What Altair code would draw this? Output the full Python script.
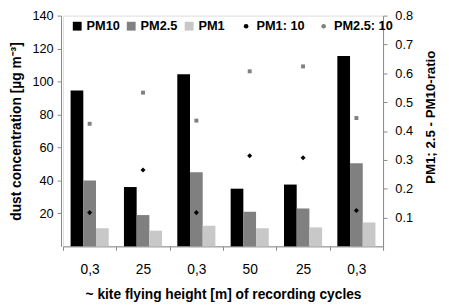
import altair as alt
import pandas as pd

heights = ["0,3", "25", "0,3", "50", "25", "0,3"]
pm10 = [94.5, 36, 104.5, 35, 37.5, 115.5]
pm25 = [40, 19, 45, 21, 23, 50.5]
pm1 = [11, 9.5, 12.5, 11, 11.5, 14.5]
ratio_pm1 = [0.117, 0.265, 0.117, 0.314, 0.307, 0.124]
ratio_pm25 = [0.425, 0.533, 0.436, 0.607, 0.624, 0.445]

bar_series = ["PM10", "PM2.5", "PM1"]
bar_colors = ["#000000", "#808080", "#c8c8c8"]
pt_series = ["PM1: 10", "PM2.5: 10"]
pt_colors = ["#000000", "#808080"]
pt_shapes = ["diamond", "square"]
pt_sizes = [26, 16]

rows = []
for i in range(len(heights)):
    for s, vals in zip(bar_series, [pm10, pm25, pm1]):
        rows.append({"idx": i, "series": s, "value": vals[i]})
bars_df = pd.DataFrame(rows)

prow = []
for i in range(len(heights)):
    for s, vals in zip(pt_series, [ratio_pm1, ratio_pm25]):
        prow.append({"idx": i, "pseries": s, "ratio": vals[i]})
pts_df = pd.DataFrame(prow)

FONT = "Liberation Sans"
label_expr = "[" + ",".join("'%s'" % h for h in heights) + "][datum.value]"

W, H = 326, 235

xenc = alt.X(
    "idx:O",
    scale=alt.Scale(paddingInner=0, paddingOuter=0),
    axis=alt.Axis(
        title="~ kite flying height [m] of recording cycles",
        labelExpr=label_expr,
        labelAngle=0,
        tickBand="extent",
        tickSize=4,
        labelPadding=13,
        labelFontSize=14,
        titleFontSize=14,
        titleY=49,
        titleBaseline="middle",
    ),
)

legend_common = dict(
    title=None,
    orient="none",
    direction="horizontal",
    labelFontSize=13,
    labelFont=FONT,
    labelFontWeight="bold",
    labelColor="#000000",
    symbolStrokeWidth=0,
)

bars = alt.Chart(bars_df).mark_bar().encode(
    x=xenc,
    xOffset=alt.XOffset(
        "series:N",
        scale=alt.Scale(domain=bar_series, paddingInner=0, paddingOuter=0.6),
    ),
    y=alt.Y(
        "value:Q",
        scale=alt.Scale(domain=[0, 140], nice=False),
        axis=alt.Axis(
            title="dust concentration [µg m⁻³]",
            values=[20, 40, 60, 80, 100, 120, 140],
            tickSize=4,
            labelPadding=4,
            offset=2,
            labelFontSize=13,
            titleFontSize=14,
            titleAngle=270,
            titleX=-45,
            titleY=H / 2,
            titleAlign="center",
            titleBaseline="middle",
            grid=False,
        ),
    ),
    color=alt.Color(
        "series:N",
        scale=alt.Scale(domain=bar_series, range=bar_colors),
        legend=alt.Legend(
            legendX=8,
            legendY=4,
            columns=3,
            columnPadding=5,
            symbolSize=81,
            symbolType="square",
            labelOffset=3,
            **legend_common,
        ),
    ),
)

pt_legend = alt.Legend(
    legendX=180,
    legendY=4,
    columns=2,
    columnPadding=12,
    symbolSize=22,
    labelOffset=4,
    **legend_common,
)

points = alt.Chart(pts_df).mark_point(filled=True, opacity=1).encode(
    x=alt.X("idx:O"),
    y=alt.Y(
        "ratio:Q",
        scale=alt.Scale(domain=[0, 0.8], nice=False),
        axis=alt.Axis(
            title="PM1; 2.5 - PM10-ratio",
            orient="right",
            values=[0.1, 0.2, 0.3, 0.4, 0.5, 0.6, 0.7, 0.8],
            format=".1f",
            tickSize=4,
            labelPadding=8,
            labelFontSize=13,
            titleFontSize=13.5,
            titleAngle=270,
            titleX=48,
            titleY=103,
            titleAlign="center",
            titleBaseline="middle",
            grid=False,
        ),
    ),
    color=alt.Color(
        "pseries:N",
        scale=alt.Scale(domain=pt_series, range=pt_colors),
        legend=pt_legend,
    ),
    shape=alt.Shape(
        "pseries:N",
        scale=alt.Scale(domain=pt_series, range=pt_shapes),
        legend=pt_legend,
    ),
    size=alt.Size("pseries:N", scale=alt.Scale(domain=pt_series, range=pt_sizes), legend=None),
)

chart = (
    alt.layer(bars, points)
    .resolve_scale(y="independent", color="independent")
    .properties(
        width=W,
        height=H,
        autosize=alt.AutoSizeParams(type="none"),
        padding={"left": 56, "top": 5, "right": 441 - 56 - W, "bottom": 300 - 5 - H},
    )
    .configure_view(stroke=None)
    .configure_axis(
        labelFont=FONT,
        titleFont=FONT,
        labelFontWeight="bold",
        titleFontWeight="bold",
        labelColor="#000000",
        titleColor="#000000",
        domainColor="#999999",
        tickColor="#999999",
    )
    .configure(background="white")
)

chart.save("out.html", embed_options={"renderer": "svg", "actions": False})
